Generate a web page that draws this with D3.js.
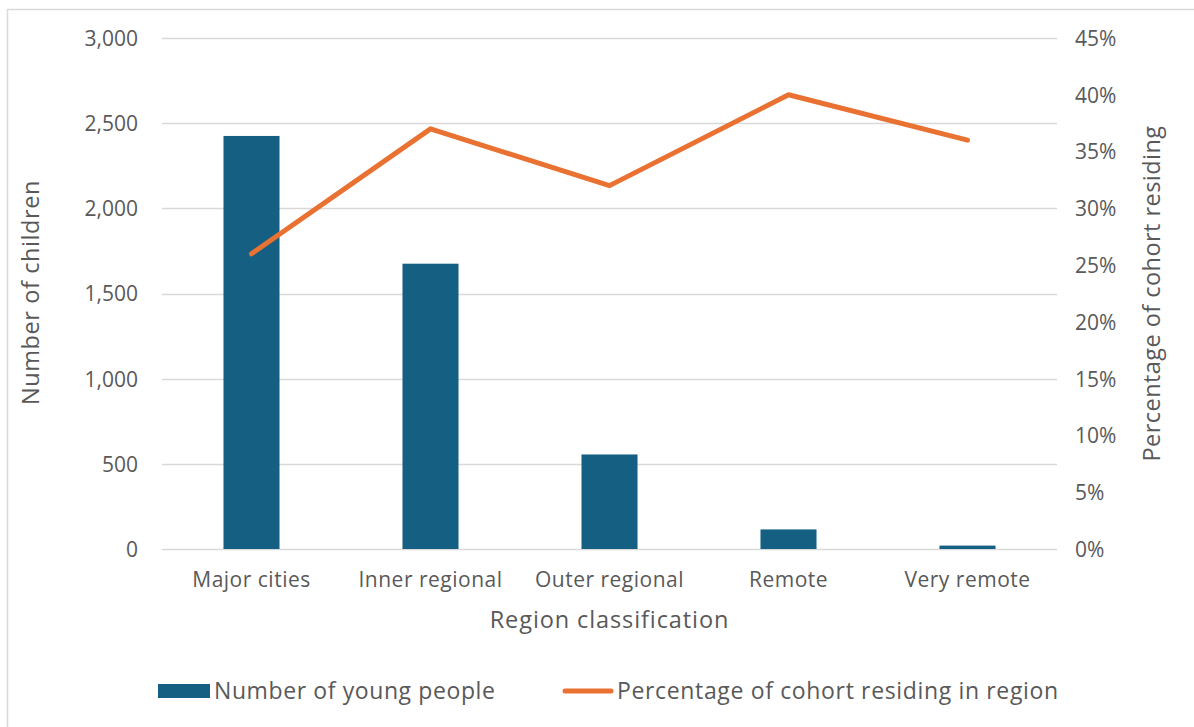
<!DOCTYPE html>
<html>
<head>
<meta charset="utf-8">
<script src="https://cdn.jsdelivr.net/npm/d3@7"></script>
<style>
  html, body { margin: 0; padding: 0; background: #fff; }
  svg { display: block; }
  text { font-family: "Open Sans", "Noto Sans", sans-serif; fill: #595959; }
</style>
</head>
<body>
<svg id="chart" width="1194" height="727"></svg>
<script>
// Region categories and the two series plotted against them
const regions = ["Major cities", "Inner regional", "Outer regional", "Remote", "Very remote"];
const youngPeople = [2425, 1675, 555, 115, 20];
const cohortShare = [0.26, 0.37, 0.32, 0.40, 0.36];

const leftTicks = [0, 500, 1000, 1500, 2000, 2500, 3000];
const rightTicks = [0, 0.05, 0.10, 0.15, 0.20, 0.25, 0.30, 0.35, 0.40, 0.45];

const barLabel = "Number of young people";
const lineLabel = "Percentage of cohort residing in region";

const W = 1194, H = 727;
const plot = { left: 162, right: 1057, top: 38, bottom: 549 };

const svg = d3.select("#chart");

// Outer chart border
svg.append("rect")
  .attr("x", 7.5).attr("y", 9.5)
  .attr("width", W).attr("height", H)
  .attr("fill", "none").attr("stroke", "#d9d9d9").attr("stroke-width", 1.5);

const x = d3.scaleBand().domain(regions).range([plot.left, plot.right]).padding(0);
const yLeft = d3.scaleLinear().domain([0, 3000]).range([plot.bottom, plot.top]);
const yRight = d3.scaleLinear().domain([0, 0.45]).range([plot.bottom, plot.top]);

// Horizontal gridlines at the left-axis ticks
svg.append("g")
  .selectAll("line")
  .data(leftTicks)
  .join("line")
  .attr("x1", plot.left).attr("x2", plot.right)
  .attr("y1", d => Math.round(yLeft(d)) + 0.5).attr("y2", d => Math.round(yLeft(d)) + 0.5)
  .attr("stroke", "#d9d9d9").attr("stroke-width", 1.5);

// Left axis (counts)
const leftAxis = svg.append("g")
  .attr("transform", `translate(${plot.left - 24},0)`)
  .call(d3.axisLeft(yLeft).tickValues(leftTicks).tickFormat(d3.format(",")).tickSize(0).tickPadding(0));
leftAxis.select(".domain").remove();
leftAxis.selectAll("text").attr("font-size", 21).attr("dy", "0.35em").style("fill", "#595959");

// Right axis (percentages)
const rightAxis = svg.append("g")
  .attr("transform", `translate(${plot.right + 18},0)`)
  .call(d3.axisRight(yRight).tickValues(rightTicks).tickFormat(d3.format(".0%")).tickSize(0).tickPadding(0));
rightAxis.select(".domain").remove();
rightAxis.selectAll("text").attr("font-size", 21).attr("dy", "0.35em").style("fill", "#595959");

// Category axis
const bottomAxis = svg.append("g")
  .attr("transform", `translate(0,${plot.bottom + 23})`)
  .call(d3.axisBottom(x).tickSize(0).tickPadding(0));
bottomAxis.select(".domain").remove();
bottomAxis.selectAll("text")
  .attr("font-size", 21).attr("letter-spacing", 0.5)
  .attr("dy", "0.71em").style("fill", "#595959");

// Bars
const barW = x.bandwidth() * 0.313;
svg.append("g")
  .selectAll("rect")
  .data(regions)
  .join("rect")
  .attr("x", (d) => x(d) + x.bandwidth() / 2 - barW / 2)
  .attr("width", barW)
  .attr("y", (d, i) => yLeft(youngPeople[i]))
  .attr("height", (d, i) => yLeft(0) - yLeft(youngPeople[i]))
  .attr("fill", "#156082");

// Percentage line
const line = d3.line()
  .x((d, i) => x(regions[i]) + x.bandwidth() / 2)
  .y(d => yRight(d));
svg.append("path")
  .datum(cohortShare)
  .attr("d", line)
  .attr("fill", "none")
  .attr("stroke", "#E97132")
  .attr("stroke-width", 5)
  .attr("stroke-linecap", "round")
  .attr("stroke-linejoin", "round");

// Axis titles
svg.append("text")
  .attr("transform", `translate(39,${(plot.top + plot.bottom) / 2 - 1}) rotate(-90)`)
  .attr("text-anchor", "middle")
  .attr("font-size", 23.5).attr("letter-spacing", 0.6)
  .text("Number of children");

svg.append("text")
  .attr("transform", `translate(1160,${(plot.top + plot.bottom) / 2}) rotate(-90)`)
  .attr("text-anchor", "middle")
  .attr("font-size", 23.5).attr("letter-spacing", 0.45)
  .text("Percentage of cohort residing");

svg.append("text")
  .attr("x", (plot.left + plot.right) / 2)
  .attr("y", 628)
  .attr("text-anchor", "middle")
  .attr("font-size", 23.5).attr("letter-spacing", 0.9)
  .text("Region classification");

// Legend
const legend = svg.append("g").attr("transform", "translate(0,691)");
legend.append("rect")
  .attr("x", 158).attr("y", -7).attr("width", 52).attr("height", 14)
  .attr("fill", "#156082");
legend.append("text")
  .attr("x", 214).attr("y", 0).attr("dy", "0.35em")
  .attr("font-size", 23).attr("letter-spacing", 0.6)
  .text(barLabel);
legend.append("line")
  .attr("x1", 565).attr("x2", 611).attr("y1", 0).attr("y2", 0)
  .attr("stroke", "#E97132").attr("stroke-width", 5).attr("stroke-linecap", "round");
legend.append("text")
  .attr("x", 617).attr("y", 0).attr("dy", "0.35em")
  .attr("font-size", 23).attr("letter-spacing", 0.65)
  .text(lineLabel);
</script>
</body>
</html>
